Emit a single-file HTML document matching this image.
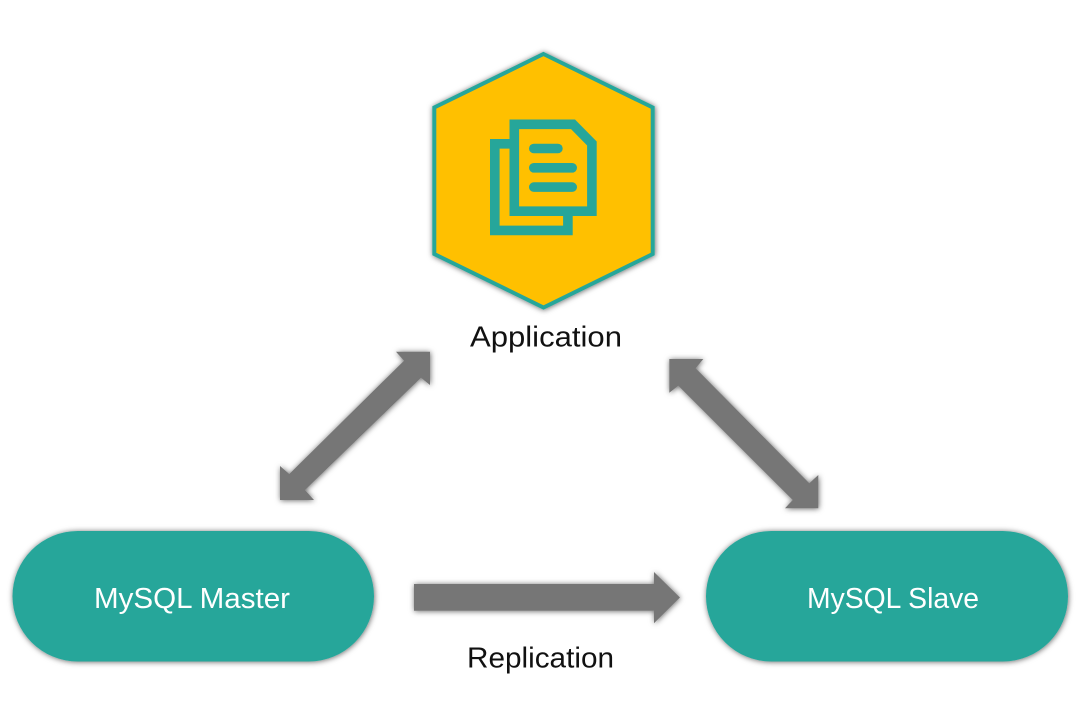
<!DOCTYPE html>
<html>
<head>
<meta charset="utf-8">
<style>
html,body{margin:0;padding:0;background:#fff;width:1080px;height:724px;overflow:hidden}
svg{display:block}
text{font-family:"Liberation Sans",sans-serif;font-size:29px}
</style>
</head>
<body>
<svg width="1080" height="724" viewBox="0 0 1080 724" xmlns="http://www.w3.org/2000/svg">
<defs>
<filter id="s" x="-15%" y="-15%" width="130%" height="130%">
<feDropShadow dx="0.5" dy="0.5" stdDeviation="3" flood-color="#000" flood-opacity="0.6"/>
</filter>
</defs>
<polygon points="543.5,54 652.7,107.5 652.7,254 543.5,307.5 434.3,254 434.3,107.5" fill="#ffc000" stroke="#26a69a" stroke-width="4" filter="url(#s)"/>
<g fill="none" stroke="#26a69a" stroke-width="9.6">
<path d="M509.5,143.8H494.8V230.4H567.9V216"/>
<path d="M514.3,124.3H573L591.9,143.5V211.2H514.3Z" fill="none"/>
</g>
<g fill="#26a69a">
<rect x="529" y="143.7" width="33.7" height="9.6" rx="4.8"/>
<rect x="529" y="163" width="48" height="9.6" rx="4.8"/>
<rect x="529" y="182.3" width="48" height="9.6" rx="4.8"/>
</g>
<g fill="#767676" filter="url(#s)">
<polygon points="430,351.7 396,351.7 404,360.7 289.3,474 280,466 280,500 314,500 305,490 421,377.7 430,385"/>
<polygon points="669.3,359 703.3,359 695.7,368.3 809.3,483.3 818.3,475 818.3,508.3 785,508.3 792.7,500 678.3,385.7 669.3,392.7"/>
<polygon points="414,584 654,584 654,572 680,597.5 654,623.3 654,610.7 414,610.7"/>
</g>
<rect x="12.5" y="531" width="361.5" height="130.5" rx="65.25" fill="#26a69a" filter="url(#s)"/>
<rect x="706" y="531" width="362" height="130.5" rx="65.25" fill="#26a69a" filter="url(#s)"/>
<text x="470" y="346.5" textLength="152" lengthAdjust="spacingAndGlyphs" fill="#111">Application</text>
<text x="467" y="667.5" textLength="147" lengthAdjust="spacingAndGlyphs" fill="#111">Replication</text>
<text x="94" y="608" textLength="196" lengthAdjust="spacingAndGlyphs" fill="#fff">MySQL Master</text>
<text x="807" y="608" textLength="172" lengthAdjust="spacingAndGlyphs" fill="#fff">MySQL Slave</text>
</svg>
</body>
</html>
